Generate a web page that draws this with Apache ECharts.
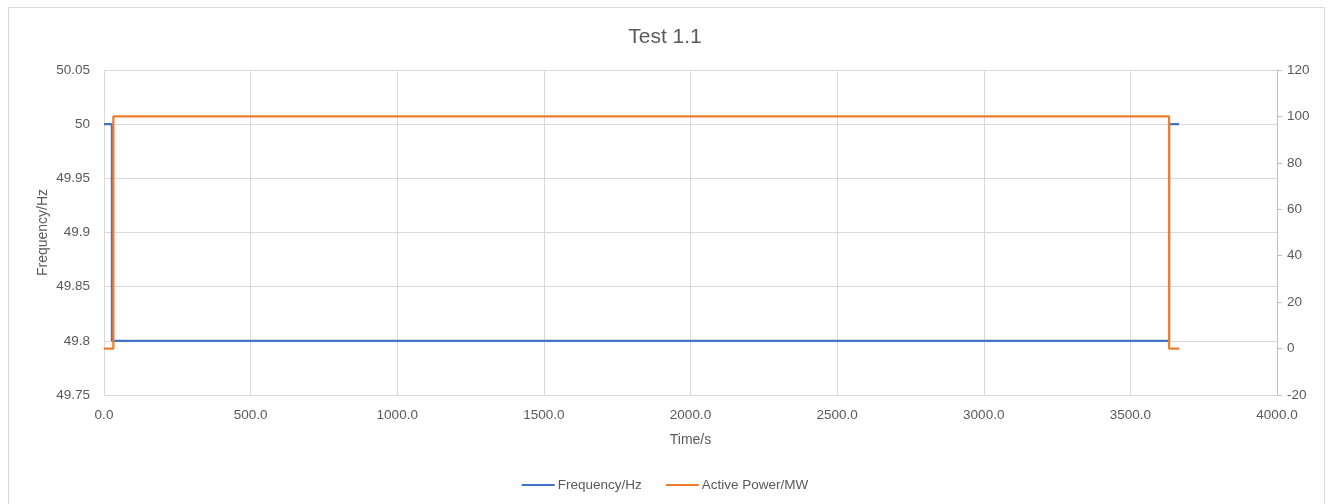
<!DOCTYPE html>
<html>
<head>
<meta charset="utf-8">
<script src="https://cdn.jsdelivr.net/npm/echarts@6/dist/echarts.min.js"></script>
<style>html,body{margin:0;padding:0;background:#fff;}#c{width:1330px;height:504px;}</style>
</head>
<body>
<div id="c"></div>
<script>
const title = 'Test 1.1';
const timeFreq = [0, 27, 27, 3632, 3632, 3666];
const frequency = [50, 50, 49.8, 49.8, 50, 50];
const timePower = [0, 32, 32, 3632, 3632, 3666];
const activePower = [0, 0, 100, 100, 0, 0];
const seriesNames = ['Frequency/Hz', 'Active Power/MW'];

const chart = echarts.init(document.getElementById('c'));
const font = 'Liberation Sans, Arial, sans-serif';
const txt = '#595959';
chart.setOption({
  animation: false,
  textStyle: {fontFamily: font},
  title: {text: title, left: 'center', top: 22, textStyle: {fontFamily: font, fontSize: 21, fontWeight: 'normal', color: txt}},
  graphic: [{type: 'rect', shape: {x: 8.5, y: 7.5, width: 1316, height: 510}, style: {fill: 'none', stroke: '#d9d9d9', lineWidth: 1}, silent: true}],
  legend: {bottom: 7, left: 'center', itemWidth: 33, itemHeight: 10, itemGap: 24,
    textStyle: {fontFamily: font, fontSize: 13.5, color: txt, padding: [0, 0, 0, -2]},
    data: [{name: seriesNames[0], icon: 'path://M0,4 L33,4 L33,6 L0,6 Z'}, {name: seriesNames[1], icon: 'path://M0,4 L33,4 L33,6 L0,6 Z'}]},
  grid: {left: 104, right: 53, top: 70, bottom: 109},
  xAxis: {type: 'value', min: 0, max: 4000, interval: 500,
    name: 'Time/s', nameLocation: 'middle', nameGap: 38, nameTextStyle: {fontFamily: font, fontSize: 14, color: txt},
    axisLine: {show: false}, axisTick: {show: false},
    axisLabel: {color: txt, fontSize: 13.5, margin: 13, formatter: v => v.toFixed(1)},
    splitLine: {show: true, lineStyle: {color: '#d9d9d9', width: 1}}},
  yAxis: [
    {type: 'value', min: 49.75, max: 50.05, interval: 0.05,
      name: 'Frequency/Hz', nameLocation: 'middle', nameGap: 54, nameMoveOverlap: false,
      nameTextStyle: {fontFamily: font, fontSize: 14, color: txt},
      axisLine: {show: false}, axisTick: {show: false},
      axisLabel: {color: txt, fontSize: 13.5, margin: 14, formatter: v => String(parseFloat(v.toFixed(2)))},
      splitLine: {show: true, lineStyle: {color: '#d9d9d9', width: 1}}},
    {type: 'value', min: -20, max: 120, interval: 20, position: 'right',
      axisLine: {show: true, lineStyle: {color: '#bfbfbf', width: 1}},
      axisTick: {show: true, inside: false, length: 5, lineStyle: {color: '#bfbfbf'}},
      axisLabel: {color: txt, fontSize: 13.5, margin: 10},
      splitLine: {show: false}}
  ],
  series: [
    {name: seriesNames[0], type: 'line', yAxisIndex: 0, showSymbol: false, symbol: 'none',
      lineStyle: {color: '#4472C4', width: 2.25}, itemStyle: {color: '#4472C4'},
      data: timeFreq.map((t, i) => [t, frequency[i]])},
    {name: seriesNames[1], type: 'line', yAxisIndex: 1, showSymbol: false, symbol: 'none',
      lineStyle: {color: '#ED7D31', width: 2.25}, itemStyle: {color: '#ED7D31'},
      data: timePower.map((t, i) => [t, activePower[i]])}
  ]
});
</script>
</body>
</html>
